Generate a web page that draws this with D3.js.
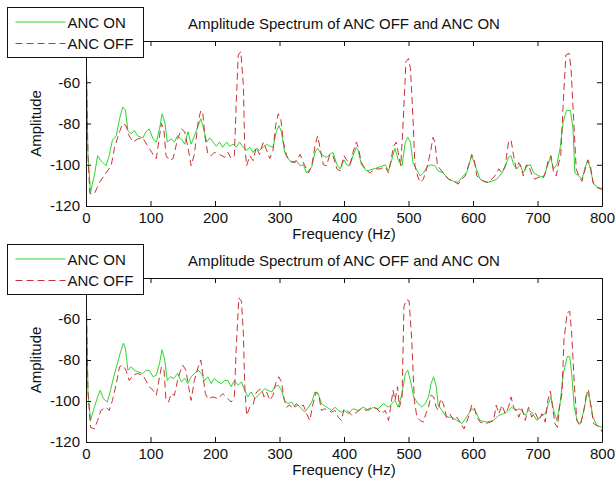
<!DOCTYPE html>
<html>
<head>
<meta charset="utf-8">
<script src="https://cdnjs.cloudflare.com/ajax/libs/d3/7.8.5/d3.min.js"></script>
<style>
  body { margin: 0; background: #fff; }
  text { font-family: "Liberation Sans", Arial, sans-serif; font-size: 15px; fill: #111; }
</style>
</head>
<body>
<div id="chart"></div>
<script>
// Spectrum readings, [frequency Hz, amplitude]
var onTop = [[0,-42],[3,-95],[7,-113.5],[13,-105],[18,-95.6],[23,-98],[31,-100.5],[36,-95.6],[41,-88],[47,-86],[52,-77.7],[57,-72],[61,-73.5],[65,-83.4],[70,-85],[75,-83.4],[80,-86],[88,-87],[93,-84],[98,-82.6],[104,-87.5],[109,-89],[114,-82.6],[118,-75.3],[122,-79],[126,-89],[132,-87.5],[137,-89],[142,-86],[148,-87.5],[153,-90],[158,-84],[163,-90],[168,-86],[174,-81],[178,-77.7],[181,-81],[187,-89],[192,-87],[197,-89],[202,-91],[207,-89],[212,-91.5],[218,-89],[223,-91],[228,-90],[233,-91.5],[238,-89],[244,-91.5],[249,-93],[254,-91.5],[259,-94],[264,-92],[269,-93],[275,-91.5],[280,-90],[285,-91],[290,-91.5],[295,-84],[299,-81],[303,-84],[308,-94],[313,-97],[319,-99],[326,-98],[332,-100.5],[337,-100],[342,-104],[350,-101],[355,-94],[359,-92],[365,-95],[373,-96.4],[378,-95],[383,-94],[389,-100],[394,-102],[400,-97.6],[404,-100],[409,-100.5],[414,-95.6],[419,-91.5],[422,-93],[427,-100],[435,-103],[446,-102],[456,-101],[464,-100],[469,-103],[474,-97.6],[479,-92],[484,-97.6],[490,-100.5],[495,-89],[499,-86.7],[503,-89],[507,-99],[512,-102],[518,-105.4],[523,-104],[529,-101],[535,-100],[541,-100.5],[546,-103],[554,-104],[562,-107],[570,-108],[577,-108.6],[583,-106],[590,-104],[598,-95.6],[603,-100],[611,-107],[621,-108.6],[629,-108],[637,-107],[645,-104],[650,-101],[655,-96.4],[659,-95.6],[663,-100],[668,-102],[673,-100],[678,-104],[684,-100.5],[689,-100],[694,-104],[702,-105.4],[710,-106],[715,-101],[720,-96.4],[725,-102],[730,-100],[735,-92],[740,-79],[745,-73.7],[751,-73.7],[755,-82.6],[758,-104],[764,-105.4],[769,-107],[774,-101],[778,-98],[782,-102],[787,-109.4],[794,-111],[800,-111.5]];

var offTop = [[0,-42],[3,-95],[6,-114],[13,-114],[21,-108.6],[31,-104],[39,-100.5],[44,-92],[52,-84],[57,-80],[62,-81],[67,-86],[73,-89],[80,-87.5],[88,-87],[96,-91],[104,-95],[109,-97],[114,-86],[117,-80],[121,-84],[124,-95.6],[130,-98],[135,-97],[142,-87.5],[148,-82.6],[153,-84],[158,-91.5],[163,-100.5],[168,-95],[174,-79],[178,-73.7],[181,-75],[185,-87.5],[189,-95],[194,-95.6],[199,-94],[207,-95],[215,-96.4],[220,-94],[225,-97],[230,-95.6],[233,-69.6],[236,-46.8],[240,-45.2],[244,-61.5],[246,-90.7],[249,-100.5],[254,-95.6],[259,-98],[264,-91.5],[269,-95],[275,-89],[280,-93],[285,-97],[290,-93],[294,-81],[298,-75.3],[302,-77.7],[306,-89],[311,-95.6],[316,-98],[324,-99],[332,-95],[337,-99],[345,-104],[350,-100.5],[355,-91],[359,-86],[363,-92],[368,-100],[373,-100.5],[378,-95],[383,-95.6],[389,-102],[394,-103],[400,-95.6],[404,-97.6],[409,-100],[414,-94],[419,-89],[422,-91.5],[427,-99],[433,-102],[440,-104],[448,-102],[456,-102],[464,-101],[469,-104],[472,-99],[477,-91],[481,-89],[484,-94],[488,-100.5],[492,-77.7],[496,-50],[500,-48.5],[503,-53.3],[507,-77.7],[510,-100.5],[514,-105.4],[518,-108.6],[523,-107],[528,-102],[534,-94],[538,-86.7],[541,-89],[545,-100.5],[549,-102],[554,-104],[562,-107],[570,-108],[577,-109.4],[583,-107],[588,-105.4],[593,-100.5],[598,-95],[602,-97.6],[606,-105.4],[611,-107],[616,-108],[624,-108.6],[629,-107],[634,-105.4],[640,-102],[645,-104],[650,-100.5],[655,-89],[659,-88],[663,-95.6],[667,-102],[671,-99],[674,-100.5],[678,-105.4],[682,-100.5],[686,-100],[691,-104.6],[696,-107],[702,-106],[707,-107],[712,-104],[717,-97.6],[721,-95.6],[725,-104],[729,-105.4],[733,-99],[736,-95.6],[740,-69.6],[744,-46.8],[749,-46],[752,-53.3],[756,-77.7],[760,-102],[764,-105.4],[769,-108],[774,-102],[778,-97.6],[782,-100.5],[786,-108.6],[792,-111],[800,-112]];

var onBottom = [[0,-42],[3,-95],[7,-109.5],[13,-103],[18,-98],[22,-94.8],[27,-98.9],[33,-100.5],[38,-94.8],[43,-88.2],[48,-82.5],[53,-76.7],[58,-71.8],[61,-74.3],[65,-85],[70,-83.3],[75,-85],[80,-85.7],[88,-86.6],[93,-85],[98,-85],[104,-88.2],[109,-87.4],[114,-81.6],[118,-75],[122,-80],[126,-90],[131,-88.2],[136,-89],[142,-86.6],[148,-90.7],[153,-89],[158,-91.5],[163,-88.2],[168,-86.6],[174,-85],[179,-86.6],[184,-90],[189,-88.2],[194,-91.5],[199,-89],[205,-90.7],[210,-91.5],[215,-90],[220,-90],[225,-93],[230,-90],[236,-92.3],[241,-90.7],[246,-94.8],[251,-98],[256,-95.6],[262,-98.9],[267,-97.2],[272,-95.6],[277,-94],[282,-94.8],[288,-95.6],[293,-93],[298,-92.3],[303,-94.8],[308,-99.7],[313,-101.3],[319,-100.5],[324,-103],[329,-102],[334,-103.8],[339,-105.4],[345,-103],[350,-100.5],[355,-95.6],[360,-96.4],[365,-101.3],[373,-103],[381,-104.6],[386,-103],[391,-104.6],[396,-105.4],[400,-104.6],[407,-106.2],[414,-103.8],[422,-104.6],[430,-103],[438,-104.6],[446,-103],[453,-103.8],[461,-101.3],[469,-103],[474,-101.3],[479,-99.7],[484,-103],[490,-96.4],[495,-86.6],[499,-85],[503,-90],[508,-98],[513,-100.5],[520,-103],[526,-101.3],[531,-98],[535,-91.5],[539,-88.2],[543,-93],[546,-102],[552,-104.6],[559,-107.9],[567,-107.9],[575,-109.5],[583,-111],[590,-107.9],[598,-103.8],[603,-104.6],[611,-109.5],[621,-110.3],[632,-109.5],[640,-107],[647,-106.2],[655,-104.6],[660,-103],[665,-104.6],[673,-103.8],[681,-107],[686,-104.6],[691,-105.4],[699,-109.5],[707,-107],[712,-106.2],[717,-101.3],[721,-98],[725,-104.6],[730,-109.5],[735,-101.3],[740,-86.6],[746,-78.4],[750,-78.4],[753,-86.6],[757,-103],[762,-110.3],[767,-111],[773,-103],[777,-95.6],[781,-98.9],[786,-107.9],[792,-112],[800,-112.8]];

var offBottom = [[0,-42],[3,-95],[7,-112.8],[13,-113.6],[18,-109.5],[23,-104.6],[31,-103],[36,-104.6],[41,-99.7],[47,-91.5],[52,-83.3],[57,-82.5],[62,-85],[67,-90],[73,-87.4],[80,-86.6],[88,-87.4],[93,-90],[98,-93],[104,-94.8],[109,-97.2],[113,-90],[117,-83.3],[121,-85],[124,-99.7],[128,-100.5],[132,-96.4],[137,-97.2],[142,-90],[146,-85.7],[150,-82.5],[155,-85],[159,-93],[163,-99.7],[168,-90],[174,-83.3],[178,-80],[181,-86.6],[185,-96.4],[189,-98.9],[197,-98],[205,-98.9],[212,-96.4],[220,-98.9],[225,-100.5],[230,-98],[233,-73.4],[237,-49.7],[241,-51.3],[244,-66.9],[246,-91.5],[249,-107],[254,-103],[259,-102],[263,-96.4],[267,-94.8],[272,-94],[276,-98],[280,-95.6],[285,-99.7],[290,-97.2],[294,-91.5],[299,-88.2],[303,-90.7],[307,-98.9],[311,-103],[316,-102],[321,-103.8],[326,-101.3],[332,-103],[337,-102],[342,-106.2],[347,-109.5],[352,-101.3],[357,-95.6],[361,-97.2],[365,-104.6],[370,-103.8],[376,-104.6],[381,-105.4],[386,-104.6],[391,-107.9],[396,-109.5],[400,-103.8],[405,-104.6],[412,-107],[420,-105.4],[427,-103.8],[435,-104.6],[443,-103],[451,-103.8],[458,-106.2],[464,-104.6],[469,-109.5],[472,-103.8],[476,-94.8],[479,-99.7],[483,-93],[486,-103],[490,-98],[493,-53.8],[497,-50.5],[501,-51.3],[505,-70.2],[509,-99.7],[513,-107.9],[518,-109.5],[523,-110.3],[527,-106.2],[531,-103],[535,-97.2],[539,-98],[543,-103],[546,-104.6],[550,-98.9],[554,-101.3],[559,-107.9],[564,-106.2],[570,-109.5],[575,-107.9],[580,-110.3],[586,-113.6],[593,-107.9],[598,-102],[602,-103],[606,-107.9],[611,-110.3],[619,-111],[627,-110.3],[632,-109.5],[636,-102],[640,-106.2],[645,-102],[650,-106.2],[655,-103],[659,-98],[663,-103],[667,-104.6],[671,-107.9],[676,-103.8],[681,-109.5],[686,-103],[691,-107.9],[696,-105.4],[702,-109.5],[707,-106.2],[712,-110.3],[716,-99.7],[720,-95.2],[724,-104.6],[727,-111],[731,-112.8],[734,-103],[738,-96.4],[741,-70.2],[746,-57],[750,-56.2],[753,-66.9],[757,-91.5],[761,-109.5],[766,-112],[771,-106.2],[776,-96.4],[779,-94.8],[783,-103],[787,-111],[792,-112],[797,-112.8],[800,-115]];

var xTicks = [0, 100, 200, 300, 400, 500, 600, 700, 800];
var yTicks = [-120, -100, -80, -60, -40];
var seriesNames = ["ANC ON", "ANC OFF"];
var titleText = "Amplitude Spectrum of ANC OFF and ANC ON";

var greenColor = "#2fd42f";
var redColor = "#c83434";

// SVG setup
var svgWidth = 615;
var svgHeight = 487;
var plotLeft = 86;
var plotRight = 602;

var svg = d3.select("#chart")
    .append("svg")
    .attr("width", svgWidth)
    .attr("height", svgHeight);

var panels = [
    { top: 41, bottom: 206, on: onTop, off: offTop },
    { top: 278, bottom: 442, on: onBottom, off: offBottom }
];

panels.forEach(function (p, i) {
    var xScale = d3.scaleLinear().domain([0, 800]).range([plotLeft, plotRight]);
    var yScale = d3.scaleLinear().domain([-120, -40]).range([p.bottom, p.top]);
    var g = svg.append("g");

    g.append("clipPath").attr("id", "clip" + i)
        .append("rect")
        .attr("x", plotLeft).attr("y", p.top)
        .attr("width", plotRight - plotLeft).attr("height", p.bottom - p.top);

    var line = d3.line().x(d => xScale(d[0])).y(d => yScale(d[1]));

    // ANC ON first, ANC OFF drawn over it
    g.append("path").datum(p.on)
        .attr("d", line)
        .attr("fill", "none")
        .attr("stroke", greenColor)
        .attr("stroke-width", 1)
        .attr("clip-path", "url(#clip" + i + ")");

    g.append("path").datum(p.off)
        .attr("d", line)
        .attr("fill", "none")
        .attr("stroke", redColor)
        .attr("stroke-width", 1)
        .attr("stroke-dasharray", "7,4")
        .attr("clip-path", "url(#clip" + i + ")");

    // Axes, ticks pointing inward
    g.append("g")
        .attr("transform", `translate(0,${p.bottom})`)
        .call(d3.axisBottom(xScale).tickValues(xTicks).tickSize(-5).tickSizeOuter(0).tickPadding(6));
    g.append("g")
        .attr("transform", `translate(0,${p.top})`)
        .call(d3.axisTop(xScale).tickValues(xTicks).tickSize(-5).tickSizeOuter(0).tickFormat(""));
    // the -40 label sits under the legend box in the original, so leave it blank
    g.append("g")
        .attr("transform", `translate(${plotLeft},0)`)
        .call(d3.axisLeft(yScale).tickValues(yTicks).tickSize(-5).tickSizeOuter(0).tickPadding(6)
            .tickFormat(d => d === -40 ? "" : d));
    g.append("g")
        .attr("transform", `translate(${plotRight},0)`)
        .call(d3.axisRight(yScale).tickValues(yTicks).tickSize(-5).tickSizeOuter(0).tickFormat(""));

    g.selectAll(".domain, .tick line").attr("stroke", "#111");

    // Title and labels
    g.append("text")
        .attr("x", (plotLeft + plotRight) / 2)
        .attr("y", p.top - 12)
        .attr("text-anchor", "middle")
        .text(titleText);

    g.append("text")
        .attr("x", (plotLeft + plotRight) / 2)
        .attr("y", p.bottom + 33)
        .attr("text-anchor", "middle")
        .text("Frequency (Hz)");

    g.append("text")
        .attr("transform", `translate(41,${(p.top + p.bottom) / 2}) rotate(-90)`)
        .attr("text-anchor", "middle")
        .text("Amplitude");

    // Legend box
    var lg = g.append("g").attr("transform", `translate(7.5,${p.top - 33.5})`);
    lg.append("rect")
        .attr("width", 136).attr("height", 50)
        .attr("fill", "#fff").attr("stroke", "#111");
    var colors = [greenColor, redColor];
    seriesNames.forEach(function (name, k) {
        var yy = 14.5 + k * 21.5;
        lg.append("line")
            .attr("x1", 8).attr("x2", 58).attr("y1", yy).attr("y2", yy)
            .attr("stroke", colors[k])
            .attr("stroke-dasharray", k === 1 ? "7,4" : null);
        lg.append("text")
            .attr("x", 60).attr("y", yy + 5.5)
            .text(name);
    });
});
</script>
</body>
</html>
